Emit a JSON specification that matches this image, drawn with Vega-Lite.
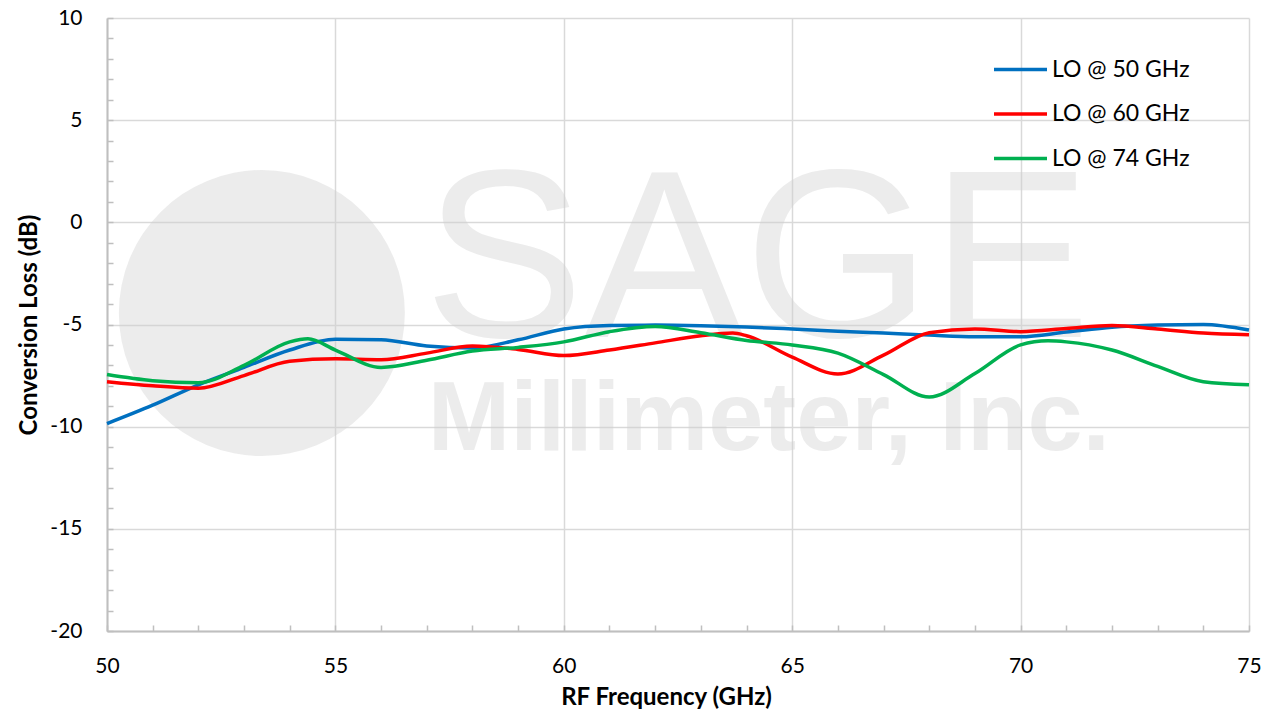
{
  "$schema": "https://vega.github.io/schema/vega-lite/v6.json",
  "width": 1142,
  "height": 613,
  "autosize": {"type": "none"},
  "padding": {"left": 107, "top": 18, "right": 23, "bottom": 81},
  "background": "white",
  "config": {
    "view": {"stroke": null},
    "font": "Lato",
    "axis": {"labelFont": "Lato", "titleFont": "Lato", "labelOverlap": false}
  },
  "datasets": {
    "curves": [
      {"f": 50, "cl": -9.85, "s": "LO @ 50 GHz"},
      {"f": 51, "cl": -8.95, "s": "LO @ 50 GHz"},
      {"f": 52, "cl": -7.95, "s": "LO @ 50 GHz"},
      {"f": 53, "cl": -7.1, "s": "LO @ 50 GHz"},
      {"f": 54, "cl": -6.25, "s": "LO @ 50 GHz"},
      {"f": 55, "cl": -5.72, "s": "LO @ 50 GHz"},
      {"f": 56, "cl": -5.75, "s": "LO @ 50 GHz"},
      {"f": 57, "cl": -6.05, "s": "LO @ 50 GHz"},
      {"f": 58, "cl": -6.15, "s": "LO @ 50 GHz"},
      {"f": 59, "cl": -5.75, "s": "LO @ 50 GHz"},
      {"f": 60, "cl": -5.22, "s": "LO @ 50 GHz"},
      {"f": 61, "cl": -5.05, "s": "LO @ 50 GHz"},
      {"f": 62, "cl": -5.03, "s": "LO @ 50 GHz"},
      {"f": 63, "cl": -5.06, "s": "LO @ 50 GHz"},
      {"f": 64, "cl": -5.12, "s": "LO @ 50 GHz"},
      {"f": 65, "cl": -5.22, "s": "LO @ 50 GHz"},
      {"f": 66, "cl": -5.33, "s": "LO @ 50 GHz"},
      {"f": 67, "cl": -5.42, "s": "LO @ 50 GHz"},
      {"f": 68, "cl": -5.52, "s": "LO @ 50 GHz"},
      {"f": 69, "cl": -5.6, "s": "LO @ 50 GHz"},
      {"f": 70, "cl": -5.6, "s": "LO @ 50 GHz"},
      {"f": 71, "cl": -5.37, "s": "LO @ 50 GHz"},
      {"f": 72, "cl": -5.13, "s": "LO @ 50 GHz"},
      {"f": 73, "cl": -5.03, "s": "LO @ 50 GHz"},
      {"f": 74, "cl": -5.0, "s": "LO @ 50 GHz"},
      {"f": 75, "cl": -5.27, "s": "LO @ 50 GHz"},
      {"f": 50, "cl": -7.8, "s": "LO @ 60 GHz"},
      {"f": 51, "cl": -8.0, "s": "LO @ 60 GHz"},
      {"f": 52, "cl": -8.12, "s": "LO @ 60 GHz"},
      {"f": 53, "cl": -7.5, "s": "LO @ 60 GHz"},
      {"f": 54, "cl": -6.8, "s": "LO @ 60 GHz"},
      {"f": 55, "cl": -6.68, "s": "LO @ 60 GHz"},
      {"f": 56, "cl": -6.72, "s": "LO @ 60 GHz"},
      {"f": 57, "cl": -6.4, "s": "LO @ 60 GHz"},
      {"f": 58, "cl": -6.05, "s": "LO @ 60 GHz"},
      {"f": 59, "cl": -6.22, "s": "LO @ 60 GHz"},
      {"f": 60, "cl": -6.52, "s": "LO @ 60 GHz"},
      {"f": 61, "cl": -6.25, "s": "LO @ 60 GHz"},
      {"f": 62, "cl": -5.9, "s": "LO @ 60 GHz"},
      {"f": 63, "cl": -5.55, "s": "LO @ 60 GHz"},
      {"f": 63.7, "cl": -5.42, "s": "LO @ 60 GHz"},
      {"f": 64, "cl": -5.55, "s": "LO @ 60 GHz"},
      {"f": 65, "cl": -6.6, "s": "LO @ 60 GHz"},
      {"f": 66, "cl": -7.42, "s": "LO @ 60 GHz"},
      {"f": 67, "cl": -6.5, "s": "LO @ 60 GHz"},
      {"f": 68, "cl": -5.4, "s": "LO @ 60 GHz"},
      {"f": 69, "cl": -5.22, "s": "LO @ 60 GHz"},
      {"f": 70, "cl": -5.35, "s": "LO @ 60 GHz"},
      {"f": 71, "cl": -5.2, "s": "LO @ 60 GHz"},
      {"f": 72, "cl": -5.05, "s": "LO @ 60 GHz"},
      {"f": 73, "cl": -5.22, "s": "LO @ 60 GHz"},
      {"f": 74, "cl": -5.42, "s": "LO @ 60 GHz"},
      {"f": 75, "cl": -5.5, "s": "LO @ 60 GHz"},
      {"f": 50, "cl": -7.45, "s": "LO @ 74 GHz"},
      {"f": 51, "cl": -7.75, "s": "LO @ 74 GHz"},
      {"f": 52, "cl": -7.85, "s": "LO @ 74 GHz"},
      {"f": 53, "cl": -7.0, "s": "LO @ 74 GHz"},
      {"f": 54, "cl": -5.85, "s": "LO @ 74 GHz"},
      {"f": 54.4, "cl": -5.7, "s": "LO @ 74 GHz"},
      {"f": 55, "cl": -6.25, "s": "LO @ 74 GHz"},
      {"f": 56, "cl": -7.1, "s": "LO @ 74 GHz"},
      {"f": 57, "cl": -6.75, "s": "LO @ 74 GHz"},
      {"f": 58, "cl": -6.3, "s": "LO @ 74 GHz"},
      {"f": 59, "cl": -6.12, "s": "LO @ 74 GHz"},
      {"f": 60, "cl": -5.85, "s": "LO @ 74 GHz"},
      {"f": 61, "cl": -5.35, "s": "LO @ 74 GHz"},
      {"f": 62, "cl": -5.1, "s": "LO @ 74 GHz"},
      {"f": 63, "cl": -5.4, "s": "LO @ 74 GHz"},
      {"f": 64, "cl": -5.78, "s": "LO @ 74 GHz"},
      {"f": 65, "cl": -6.0, "s": "LO @ 74 GHz"},
      {"f": 66, "cl": -6.4, "s": "LO @ 74 GHz"},
      {"f": 67, "cl": -7.45, "s": "LO @ 74 GHz"},
      {"f": 68, "cl": -8.55, "s": "LO @ 74 GHz"},
      {"f": 69, "cl": -7.4, "s": "LO @ 74 GHz"},
      {"f": 70, "cl": -6.0, "s": "LO @ 74 GHz"},
      {"f": 70.6, "cl": -5.8, "s": "LO @ 74 GHz"},
      {"f": 71, "cl": -5.85, "s": "LO @ 74 GHz"},
      {"f": 72, "cl": -6.25, "s": "LO @ 74 GHz"},
      {"f": 73, "cl": -7.05, "s": "LO @ 74 GHz"},
      {"f": 74, "cl": -7.8, "s": "LO @ 74 GHz"},
      {"f": 75, "cl": -7.95, "s": "LO @ 74 GHz"}
    ]
  },
  "layer": [
    {
      "data": {"values": [{}]},
      "mark": {"type": "point", "filled": true, "size": 81800, "color": "#d0d0d0", "opacity": 0.4, "strokeWidth": 0},
      "encoding": {
        "x": {"datum": 53.39, "type": "quantitative", "scale": {"domain": [50, 75], "nice": false, "zero": false}},
        "y": {"datum": -4.44, "type": "quantitative", "scale": {"domain": [-20, 10], "nice": false, "zero": false}}
      }
    },
    {
      "data": {"values": [{}]},
      "mark": {"type": "text", "text": "SAGE", "font": "Liberation Sans", "fontSize": 240, "align": "center", "baseline": "alphabetic", "color": "#d0d0d0", "opacity": 0.4},
      "encoding": {
        "x": {"datum": 64.24, "type": "quantitative", "scale": {"domain": [50, 75], "nice": false, "zero": false}},
        "y": {"datum": -5.61, "type": "quantitative", "scale": {"domain": [-20, 10], "nice": false, "zero": false}}
      }
    },
    {
      "data": {"values": [{}]},
      "mark": {"type": "text", "text": "Millimeter, Inc.", "font": "Liberation Sans", "fontWeight": "bold", "fontSize": 99, "align": "center", "baseline": "alphabetic", "color": "#d0d0d0", "opacity": 0.4},
      "encoding": {
        "x": {"datum": 64.49, "type": "quantitative", "scale": {"domain": [50, 75], "nice": false, "zero": false}},
        "y": {"datum": -11.15, "type": "quantitative", "scale": {"domain": [-20, 10], "nice": false, "zero": false}}
      }
    },
    {
      "data": {"name": "curves"},
      "mark": {"type": "line", "interpolate": "monotone", "strokeWidth": 3.5},
      "encoding": {
        "x": {
          "field": "f", "type": "quantitative",
          "scale": {"domain": [50, 75], "nice": false, "zero": false},
          "axis": {
            "title": "RF Frequency (GHz)", "titleX": 559,
            "titleFontSize": 24, "titleFontWeight": "bold", "titleColor": "#000", "titlePadding": 9,
            "tickCount": 60,
            "values": [50,51,52,53,54,55,56,57,58,59,60,61,62,63,64,65,66,67,68,69,70,71,72,73,74,75],
            "labelExpr": "abs(datum.value - 5 * round(datum.value / 5)) < 0.01 ? '' + round(datum.value) : ''",
            "labelFontSize": {"condition": {"test": "abs(datum.value - 5 * round(datum.value / 5)) >= 0.01", "value": 1}, "value": 21},
            "labelColor": "#000", "labelPadding": 30, "labelFlush": false, "labelOverlap": false,
            "grid": true, "gridColor": "#d9d9d9", "gridWidth": 1.5,
            "gridOpacity": {"condition": {"test": "abs(datum.value - 5 * round(datum.value / 5)) < 0.01", "value": 1}, "value": 0},
            "domainColor": "#bfbfbf", "domainWidth": 2,
            "tickColor": "#bfbfbf", "tickWidth": 1.5, "tickSize": -6
          }
        },
        "y": {
          "field": "cl", "type": "quantitative",
          "scale": {"domain": [-20, 10], "nice": false, "zero": false},
          "axis": {
            "title": "Conversion Loss (dB)",
            "titleFontSize": 24, "titleFontWeight": "bold", "titleColor": "#000", "titlePadding": 8,
            "tickCount": 60,
            "values": [-20,-19,-18,-17,-16,-15,-14,-13,-12,-11,-10,-9,-8,-7,-6,-5,-4,-3,-2,-1,0,1,2,3,4,5,6,7,8,9,10],
            "labelExpr": "abs(datum.value - 5 * round(datum.value / 5)) < 0.01 ? '' + round(datum.value) : ''",
            "labelFontSize": {"condition": {"test": "abs(datum.value - 5 * round(datum.value / 5)) >= 0.01", "value": 1}, "value": 21},
            "labelColor": "#000", "labelPadding": 31, "labelFlush": false, "labelOverlap": false,
            "grid": true, "gridColor": "#d9d9d9", "gridWidth": 1.5,
            "gridOpacity": {"condition": {"test": "abs(datum.value - 5 * round(datum.value / 5)) < 0.01", "value": 1}, "value": 0},
            "domainColor": "#bfbfbf", "domainWidth": 2,
            "tickColor": "#bfbfbf", "tickWidth": 1.5, "tickSize": -6
          }
        },
        "color": {
          "field": "s", "type": "nominal",
          "scale": {"domain": ["LO @ 50 GHz", "LO @ 60 GHz", "LO @ 74 GHz"], "range": ["#0070c0", "#ff0000", "#00b050"]},
          "legend": {
            "title": null, "orient": "none", "legendX": 885, "legendY": 23,
            "symbolType": "stroke", "symbolSize": 2809, "symbolStrokeWidth": 3.5,
            "labelFontSize": 23, "labelColor": "#000", "labelOffset": 3, "rowPadding": 3.5
          }
        }
      }
    }
  ]
}
